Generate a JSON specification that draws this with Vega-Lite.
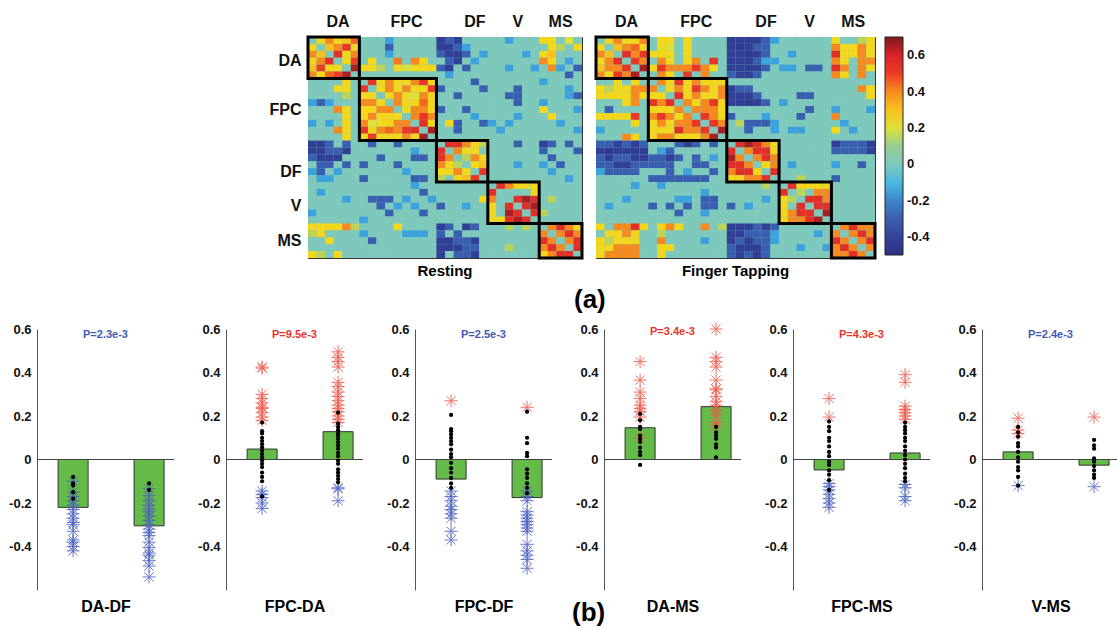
{
"$schema":"https://vega.github.io/schema/vega-lite/v6.json",
"background":"white",
"padding":{"left":5,"top":5,"right":0,"bottom":0},
"spacing":7,
"resolve":{"scale":{"color":"independent"}},
"config":{"font":"Liberation Sans","view":{"stroke":null},"axis":{"grid":false,"labelColor":"#111","titleColor":"#000"},
"axisBottom":{"labels":false,"ticks":false,"domain":false,"titleFontSize":16,"titleFontWeight":"bold","titlePadding":8},
"axisLeft":{"labelFontSize":13,"labelFontWeight":"bold","domainColor":"#555","ticks":false,"labelPadding":6,"minExtent":32,"maxExtent":32}},
"datasets":{
"blocks":[{"s":1,"e":6},{"s":7,"e":15},{"s":16,"e":21},{"s":22,"e":27},{"s":28,"e":32}],
"bars":[{"p":"DA-DF","g":"1","m":-0.22},{"p":"DA-DF","g":"2","m":-0.305},{"p":"FPC-DA","g":"1","m":0.048},{"p":"FPC-DA","g":"2","m":0.128},{"p":"FPC-DF","g":"1","m":-0.09},{"p":"FPC-DF","g":"2","m":-0.175},{"p":"DA-MS","g":"1","m":0.146},{"p":"DA-MS","g":"2","m":0.243},{"p":"FPC-MS","g":"1","m":-0.048},{"p":"FPC-MS","g":"2","m":0.03},{"p":"V-MS","g":"1","m":0.035},{"p":"V-MS","g":"2","m":-0.026}],
"pts":[
{"p":"DA-DF","g":"1","t":"k","v":[-0.08,-0.11,-0.12,-0.15,-0.18]},
{"p":"DA-DF","g":"1","t":"b","v":[-0.1,-0.15,-0.17,-0.19,-0.21,-0.23,-0.25,-0.27,-0.29,-0.3,-0.33,-0.37,-0.38,-0.4,-0.42]},
{"p":"DA-DF","g":"2","t":"k","v":[-0.11,-0.14]},
{"p":"DA-DF","g":"2","t":"b","v":[-0.135,-0.165,-0.19,-0.21,-0.23,-0.24,-0.26,-0.28,-0.3,-0.32,-0.335,-0.35,-0.38,-0.405,-0.43,-0.44,-0.465,-0.49,-0.54]},
{"p":"FPC-DA","g":"1","t":"r","v":[0.425,0.42,0.3,0.28,0.26,0.24,0.235,0.215,0.195,0.18]},
{"p":"FPC-DA","g":"1","t":"k","v":[0.17,0.13,0.12,0.1,0.085,0.07,0.055,0.04,0.025,0.01,-0.005,-0.02,-0.035,-0.06,-0.08,-0.1,-0.17]},
{"p":"FPC-DA","g":"1","t":"b","v":[-0.145,-0.16,-0.175,-0.2,-0.225]},
{"p":"FPC-DA","g":"2","t":"r","v":[0.495,0.47,0.45,0.425,0.355,0.335,0.31,0.29,0.27,0.25,0.235,0.22,0.2,0.185,0.17]},
{"p":"FPC-DA","g":"2","t":"k","v":[0.215,0.165,0.15,0.135,0.12,0.11,0.095,0.08,0.065,0.05,0.03,0.015,-0.005,-0.02,-0.045,-0.06,-0.075,-0.09,-0.105]},
{"p":"FPC-DA","g":"2","t":"b","v":[-0.13,-0.135,-0.19]},
{"p":"FPC-DF","g":"1","t":"r","v":[0.27]},
{"p":"FPC-DF","g":"1","t":"k","v":[0.205,0.14,0.13,0.115,0.1,0.085,0.07,0.045,0.025,0.01,-0.015,-0.04,-0.06,-0.085,-0.11,-0.13]},
{"p":"FPC-DF","g":"1","t":"b","v":[-0.145,-0.17,-0.19,-0.215,-0.23,-0.25,-0.27,-0.33,-0.37]},
{"p":"FPC-DF","g":"2","t":"r","v":[0.24]},
{"p":"FPC-DF","g":"2","t":"k","v":[0.22,0.1,0.075,0.03,0.015,-0.045,-0.065,-0.085,-0.11,-0.13,-0.155]},
{"p":"FPC-DF","g":"2","t":"b","v":[-0.145,-0.17,-0.19,-0.24,-0.255,-0.27,-0.285,-0.3,-0.315,-0.33,-0.39,-0.42,-0.44,-0.46,-0.5]},
{"p":"DA-MS","g":"1","t":"r","v":[0.45,0.365,0.31,0.28,0.25,0.235,0.22,0.195,0.1]},
{"p":"DA-MS","g":"1","t":"k","v":[0.21,0.18,0.15,0.14,0.11,0.095,0.08,0.055,0.035,0.02,-0.025]},
{"p":"DA-MS","g":"2","t":"r","v":[0.6,0.47,0.45,0.425,0.365,0.325,0.32,0.29,0.265,0.25,0.225,0.205,0.17,0.155]},
{"p":"DA-MS","g":"2","t":"k","v":[0.15,0.125,0.11,0.095,0.07,0.055,0.01]},
{"p":"FPC-MS","g":"1","t":"r","v":[0.28,0.195]},
{"p":"FPC-MS","g":"1","t":"k","v":[0.175,0.15,0.13,0.1,0.085,0.06,0.035,0.015,-0.01,-0.025,-0.05,-0.07,-0.095,-0.14]},
{"p":"FPC-MS","g":"1","t":"b","v":[-0.11,-0.125,-0.14,-0.16,-0.18,-0.2,-0.22]},
{"p":"FPC-MS","g":"2","t":"r","v":[0.39,0.355,0.245,0.23,0.215,0.2,0.185]},
{"p":"FPC-MS","g":"2","t":"k","v":[0.17,0.15,0.135,0.12,0.1,0.085,0.06,0.04,0.02,0,-0.02,-0.04,-0.065,-0.085,-0.1]},
{"p":"FPC-MS","g":"2","t":"b","v":[-0.115,-0.13,-0.17,-0.19]},
{"p":"V-MS","g":"1","t":"r","v":[0.19,0.135,0.12]},
{"p":"V-MS","g":"1","t":"k","v":[0.15,0.125,0.105,0.075,0.06,0.035,0.01,-0.01,-0.035,-0.05,-0.08,-0.12]},
{"p":"V-MS","g":"1","t":"b","v":[-0.12]},
{"p":"V-MS","g":"2","t":"r","v":[0.195]},
{"p":"V-MS","g":"2","t":"k","v":[0.09,0.065,0.05,0.005,-0.01,-0.03,-0.05,-0.07,-0.085]},
{"p":"V-MS","g":"2","t":"b","v":[-0.125]}
],
"mat":[
{"m":"R","r":1,"v":[0,0.25,0.4,0.25,0.3,0.45,0,0,0,-0.15,0,0,0,0,0,-0.42,-0.3,-0.42,0,0,0,0,0,-0.15,0,0,0,0.25,0.25,0,0.2,0]},
{"m":"R","r":2,"v":[0.25,0,0.3,0.4,0.52,0.25,0,0,0,-0.3,0,0,0,0,0,-0.42,-0.42,-0.3,-0.15,0,0,0,0,0,0,0,0,0,0.25,0.15,0,0.25]},
{"m":"R","r":3,"v":[0.4,0.3,0,0.55,0.25,0.4,0,0,0,-0.15,0,0,0,0,0,-0.3,-0.42,-0.42,-0.3,0,-0.15,0,0,0,0,-0.15,0,0.25,0.3,0,0,0]},
{"m":"R","r":4,"v":[0.25,0.4,0.55,0,0.25,0.5,0,0.25,0,0,0.42,0,0.4,0.25,0,0,-0.3,-0.42,0,-0.15,0,0,0,0,0,0,0,0.4,0.25,0,-0.15,0]},
{"m":"R","r":5,"v":[0.3,0.5,0.25,0.25,0,0.65,0.25,0.25,0.15,0,0.25,0.2,0.25,0.25,0.25,-0.3,-0.42,0,-0.3,0,0,0,0,-0.15,0,0,-0.15,0,0.4,-0.15,0,-0.3]},
{"m":"R","r":6,"v":[0.4,0.25,0.45,0.5,0.65,0,0,0,0,0,0,0,0,0,0,0,-0.15,0,0,0,0,0,0,0,0,0,0,0,0,0,-0.3,0]},
{"m":"R","r":7,"v":[0,0,0,0,0.25,0,0,0.52,0.25,0.4,0.25,0.25,0.4,0.52,0.25,0,0,0,0,-0.3,0,0,0,0,0,0,0,-0.15,0,0,0,0]},
{"m":"R","r":8,"v":[0,0,0,0.25,0.25,0,0.52,0,0.25,0.4,0.25,0.4,0.25,0.25,0.5,-0.3,0,0,0,0,-0.3,0,0,0,-0.3,0,0,0,0,0,-0.15,0]},
{"m":"R","r":9,"v":[0,0,0,0,0.15,0,0.25,0.25,0,0.25,0.4,0.25,0.2,0.4,0.25,0,0,-0.3,0,0,0,0,0,-0.3,-0.3,0,0,0,0,0,-0.15,-0.3]},
{"m":"R","r":10,"v":[-0.15,-0.3,-0.15,0,0,0,0.4,0.4,0.25,0,0.4,0.25,0.25,0.45,0.25,0,0,0,0,0,0,0,0,0,-0.3,0,0,-0.15,0,0,0,0]},
{"m":"R","r":11,"v":[0,0,0,0.4,0.25,0,0.25,0.25,0.4,0.4,0,0.25,0.4,0.4,0.25,-0.3,0,0,-0.3,0,0,0,0,0,0,0,0,0.25,0,0,0,-0.15]},
{"m":"R","r":12,"v":[0,0,0,0,0.25,0,0.25,0.4,0.25,0.25,0.25,0,0.4,0.52,0.4,0,0,0,0,-0.15,0,0,0,0,-0.15,0,0,0,0.25,0,0,0]},
{"m":"R","r":13,"v":[-0.15,0,-0.15,0,0.25,0,0.4,0.2,0.25,0.25,0.4,0.4,0,0.55,0.25,0,0.25,-0.3,0,0,-0.3,-0.15,0,-0.15,0,0,0,0,0,-0.15,0,0]},
{"m":"R","r":14,"v":[0,0,0,0.4,0.25,0,0.52,0.25,0.4,0.45,0.4,0.52,0.55,0,0.65,0,0,-0.3,0,0,0,0,-0.15,0,0,0,0,0,0,0,0,-0.15]},
{"m":"R","r":15,"v":[0,0,0,0,0.25,0,0.25,0.5,0.25,0.25,0.25,0.4,0.25,0.65,0,0,0,0,0,0,0,0,0,0,0,0,0,0,0,0,0,0]},
{"m":"R","r":16,"v":[-0.42,-0.42,-0.3,0,-0.3,0,0,-0.3,0,0,-0.3,0,0,0,0,0,0.55,0.55,0.4,0.25,0.15,0,0,0,-0.3,0,0,-0.42,-0.3,0,-0.3,0]},
{"m":"R","r":17,"v":[-0.42,-0.42,-0.3,-0.3,-0.42,0,0,0,0,0,0,0,-0.15,0,0,0.55,0,0.4,0.25,0.25,0,0,0,0,0,0,0,-0.3,0,0,0,-0.3]},
{"m":"R","r":18,"v":[-0.3,-0.42,-0.42,-0.42,0,0,0,0,-0.3,0,0,0,-0.3,-0.3,0,0.55,0.4,0,0.15,0.4,0.25,0,0,0,0,0,0,0,-0.3,0,0,0]},
{"m":"R","r":19,"v":[0,-0.3,-0.3,0,-0.3,0,-0.3,0,0,0,-0.3,0,0,0,0,0.4,0.25,0.15,0,0.25,0.3,0,0,0,-0.15,0,0,-0.15,0,-0.3,0,0]},
{"m":"R","r":20,"v":[-0.15,-0.3,0,-0.15,0,0,0,0,0,0,0,-0.15,0,0,0,0.25,0.25,0.4,0.25,0,0.52,0,0,0,0,0,0,0,-0.15,0,0,0]},
{"m":"R","r":21,"v":[0,-0.15,-0.15,0,0,0,-0.3,0,0,0,0,0,-0.3,-0.3,0,0.15,0,0.25,0.3,0.52,0,0,0,0,0,0,0,0,0,0,-0.15,0]},
{"m":"R","r":22,"v":[0,0,0,0,0,0,0,0,0,0,0,0,-0.15,0,0,0,0,0,0,0,0,0,0.55,0.4,0.25,0.25,0.25,0,0,0,0,0]},
{"m":"R","r":23,"v":[0,-0.15,0,0,0,0,0,0,0,0,0,0,0,-0.3,0,0,0,0,0,0,0,0.55,0,0,0,0,0.25,0,0,0,0,0]},
{"m":"R","r":24,"v":[0,0,0,0,-0.15,0,0,-0.3,-0.3,-0.3,0,-0.15,0,0,-0.15,0,0,0,0,0,0.25,0.4,0,0,0.55,0.65,0.55,0,0.15,0,0,0]},
{"m":"R","r":25,"v":[0,0,0,0,0,0,0,0,-0.3,0,-0.15,0,-0.15,0,0,-0.3,0,0,-0.15,0,0,0.25,0,0.55,0,0.55,0.65,0,0,0,0,0]},
{"m":"R","r":26,"v":[-0.15,0,0,0,0,0,0,0,0,-0.3,0,0,0,-0.3,0,0,0,0,0,0,0,0.25,0,0.65,0.55,0,0.55,0.15,0,0,0,0]},
{"m":"R","r":27,"v":[0,0,0,0,0,0,-0.15,0,0,0,0,0,0,0,0,0,0,0,0,0,0,0.25,0.25,0.55,0.65,0.55,0,0,0,0,0,0]},
{"m":"R","r":28,"v":[0.25,0.25,0.25,0.25,0.4,0.15,0,0,0,0,0.25,0,0,0,0,-0.42,-0.3,0,-0.42,-0.3,0,0,0,0.15,0,0.15,0,0,0.4,0.55,0.4,0.25]},
{"m":"R","r":29,"v":[0.15,0.25,0,0,0,0,-0.15,0,0,0,0,-0.15,-0.15,-0.15,0,-0.3,0,-0.3,0,0,0,0,0,0,0,0,0,0.4,0,0.4,0.55,0.4]},
{"m":"R","r":30,"v":[0,0,0.25,0,0,0,0,-0.3,0,0,0,0,0,0,0,-0.42,-0.42,-0.3,-0.3,-0.42,0,0,0,0,0,0,0,0.55,0.4,0,0.4,0.55]},
{"m":"R","r":31,"v":[0,0,0,0,0,0,0,0,0,0,0,0,0,0,0,-0.42,-0.42,-0.42,-0.3,-0.3,0,0,0,0.15,0,0,0,0.4,0.55,0.4,0,0.55]},
{"m":"R","r":32,"v":[0.25,0.15,0,0.25,0,0,0,0,0,0,0,0,0,0,0,-0.42,0,-0.3,-0.3,-0.42,0,0,0,0,0,0,0,0.25,0.4,0.55,0.55,0]},
{"m":"F","r":1,"v":[0,0.25,0.4,0.25,0.25,0.4,0,0.25,0.25,0,0.25,0,0,0,0,-0.42,-0.42,-0.42,-0.42,-0.3,-0.15,0,0,0,0,0,0,0.25,0,0,0.15,0.25]},
{"m":"F","r":2,"v":[0.25,0,0.3,0.4,0.45,0.25,0,0.25,0.2,0,0.25,0,0,0,0,-0.42,-0.45,-0.42,-0.3,-0.3,0,0,0,0,0,0,0,0.4,0.25,0.25,0.4,0.25]},
{"m":"F","r":3,"v":[0.4,0.3,0,0.55,0.4,0.52,0.25,0.25,0.25,0,0.25,0,0,0,0,-0.42,-0.42,-0.45,-0.42,-0.3,0,0,-0.15,0,0,0,0,0.55,0.25,0.25,0.4,0.25]},
{"m":"F","r":4,"v":[0.25,0.4,0.55,0,0.52,0.4,0,0.4,0.25,0,0.25,0.4,0,0.52,0,-0.42,-0.42,-0.42,-0.3,-0.15,-0.15,0,0,0,0,0,0,0.4,0.25,0,0.4,0.4]},
{"m":"F","r":5,"v":[0.3,0.4,0.4,0.52,0,0.65,0.25,0.52,0.4,0.4,0.4,0.52,0.4,0.25,0,-0.42,-0.42,-0.42,-0.42,-0.3,0,-0.15,-0.15,0,-0.3,-0.3,0,0.55,0.4,0,0.4,0.25]},
{"m":"F","r":6,"v":[0.4,0.25,0.52,0.4,0.65,0,0,0.4,0.25,0,0.52,0,0.4,0,0,-0.3,-0.42,-0.42,-0.3,0,0,0,0,0,0,0,0,0.4,0.25,0,0.4,0]},
{"m":"F","r":7,"v":[0,0,0.25,0,0.25,0,0,0.4,0.25,0.52,0.25,0.4,0.25,0.25,0.25,0,0,0,0,0,0,0,0,0,0,0,0,0,0,0,0,0]},
{"m":"F","r":8,"v":[0.25,0.15,0.25,0.25,0.4,0.4,0.4,0,0.25,0.4,0.25,0.52,0.4,0.25,0.4,-0.42,-0.3,-0.3,0,0,0,0,0,0,0,0,0,0,0,0,0.4,0.25]},
{"m":"F","r":9,"v":[0.25,0.25,0.25,0.25,0.4,0.25,0.25,0.25,0,0.55,0.25,0.4,0.25,0.25,0.4,-0.42,-0.42,-0.42,-0.3,0,0,0,0,-0.3,-0.3,0,0,0,0,0,0,0.25]},
{"m":"F","r":10,"v":[0,0,0,0.25,0.4,0,0.52,0.4,0.55,0,0.4,0.25,0.4,0.52,0.25,-0.42,-0.42,-0.45,-0.42,-0.3,0,-0.15,0,0,0,0,0,0,0,0,0,0]},
{"m":"F","r":11,"v":[0,-0.3,0,0,0,0,0.25,0.25,0.25,0.4,0,0.4,0.4,0.4,0.25,0,0,0,0,0,0,0,0,0,-0.3,0,0,-0.15,0,0,0,-0.15]},
{"m":"F","r":12,"v":[0.25,0.25,0.25,0.25,0.52,0,0.4,0.52,0.4,0.25,0.4,0,0.52,0.4,0.25,-0.3,0,0,0,-0.15,0,0,0,-0.3,0,0,0,0.4,0,0,0,0]},
{"m":"F","r":13,"v":[0,0,0,0,0.25,0,0.25,0.4,0.25,0.4,0.4,0.52,0,0.52,0.4,0,0.15,-0.3,-0.3,-0.3,-0.15,0,0,0,0,0,0,0,-0.15,0,0,0]},
{"m":"F","r":14,"v":[-0.15,0,0,0,0,0,0.25,0.25,0.25,0.55,0.4,0.4,0.52,0,0.65,0,0,-0.3,0,0,-0.15,0,-0.15,-0.15,0,0,0,0.25,0,-0.15,0,0]},
{"m":"F","r":15,"v":[0,0,0,0.4,0.25,0,0.25,0.4,0.4,0.25,0.25,0.25,0.4,0.65,0,0,0,0,0,0,0,0,0,0,0,0,0,0,0,0,0,0]},
{"m":"F","r":16,"v":[-0.3,-0.3,-0.42,-0.3,-0.42,-0.3,0,0,0,-0.3,-0.42,-0.3,0,-0.3,0,0,0.55,0.65,0.55,0.4,0.25,0,0,0,0,0,0,-0.42,-0.3,-0.3,-0.3,-0.42]},
{"m":"F","r":17,"v":[-0.42,-0.45,-0.42,-0.42,-0.42,-0.42,0,-0.15,-0.3,0,0,0,0,0,0,0.55,0,0.4,0.55,0.55,0.25,0,0,0,0,0,0,-0.3,-0.3,-0.3,-0.3,-0.42]},
{"m":"F","r":18,"v":[-0.3,-0.42,-0.3,-0.3,-0.42,-0.42,-0.3,-0.3,-0.42,-0.3,0,-0.3,0,-0.15,0,0.65,0.4,0,0.4,0.55,0.4,0,0,0,0,0,0,0,0,0,0,0]},
{"m":"F","r":19,"v":[-0.3,-0.3,-0.42,-0.42,-0.3,-0.3,-0.3,-0.3,-0.3,0,0,-0.3,-0.3,0,0,0.55,0.55,0.4,0,0.25,0.4,0,-0.15,0,0,0,0,-0.15,0,0,-0.3,0]},
{"m":"F","r":20,"v":[-0.15,-0.3,-0.3,-0.3,-0.3,0,0,0,-0.3,0,-0.15,0,0,-0.3,0,0.4,0.55,0.55,0.25,0,0.55,0,0,0,0,0,0,0,0,0,0,0]},
{"m":"F","r":21,"v":[0,0,0,0,0,0,-0.3,-0.3,-0.3,-0.3,-0.3,-0.3,-0.3,0,0,0.25,0.25,0.4,0.4,0.55,0,0,0,0.15,0,0,0,-0.3,0,0,0,0]},
{"m":"F","r":22,"v":[0,0,0,0,-0.15,0,0,-0.15,0,0,0,0,0,0,0,0,0,0,0,0.15,0,0,0.55,0.25,0.25,0.25,0.25,0,0,0,0,0]},
{"m":"F","r":23,"v":[0,0,0,0,0,0,0,0,0,0,0,0,-0.15,0,0,0,0,0,0,0,0,0.55,0,0.15,0,0.4,0.4,0,0,0,0,0]},
{"m":"F","r":24,"v":[0,0,0,-0.15,0,0,0,0,0,-0.15,-0.15,0,-0.3,-0.3,0,0,0,0,0,-0.15,0,0.25,0.15,0,0.55,0.55,0.4,0,0,0,0,0]},
{"m":"F","r":25,"v":[0,-0.15,0,0,0,0,-0.3,0,-0.3,0,-0.3,0,-0.3,-0.3,0,-0.3,0,-0.15,0,0,0,0.25,0,0.55,0,0.55,0.55,0,0,0,0,0]},
{"m":"F","r":26,"v":[0,0,0,0,0,0,0,0,0,-0.3,0,0,-0.15,0,0,0,0,0,0,0,0,0.25,0.4,0.55,0.55,0,0.65,0,0,0,0,0]},
{"m":"F","r":27,"v":[0,0,0,0,0,0,0,0,0,0,0,0,0,0,0,0,0,0,0,0,0,0.25,0.4,0.4,0.55,0.65,0,0,0,0,0,0]},
{"m":"F","r":28,"v":[0.25,0,0.4,0.4,0.55,0.25,0,0.25,0.4,0.25,0,0,0.4,0,0.15,-0.42,-0.42,-0.42,-0.3,-0.42,-0.3,0,0,0,0,0,0,0,0.4,0.55,0.4,0.4]},
{"m":"F","r":29,"v":[0,0.25,0.25,0.4,0.25,0,0,0.15,0,0,0,0,0,0,0,-0.42,-0.42,-0.3,-0.3,-0.3,-0.15,0,0,0,0,-0.15,0,0.4,0,0.4,0.55,0.4]},
{"m":"F","r":30,"v":[0.25,0.15,0.25,0.25,0.25,0,0,0.4,0,0,0,0,-0.15,0,0,-0.42,-0.3,-0.42,-0.3,-0.3,-0.15,0,0,0,0,0,0,0.55,0.4,0,0.4,0.55]},
{"m":"F","r":31,"v":[0.25,0.25,0.4,0.4,0.4,0,0,0.25,0.25,0,0,0,0,0,0,-0.3,-0.42,-0.42,-0.42,-0.3,0,0,0,-0.15,0,0,-0.15,0.4,0.55,0.4,0,0.4]},
{"m":"F","r":32,"v":[0.25,0.4,0.4,0.4,0.4,0,0,0.25,0,0,0,0,0,0,0,-0.3,-0.42,-0.3,-0.42,-0.3,0,0,0,0,0,0,0,0.4,0.4,0.55,0.4,0]}
]},
"vconcat":[
{"hconcat":[
 {"width":220,"height":221,"data":{"values":[{}]},"mark":{"type":"point","opacity":0},"encoding":{}},
 {"width":274,"height":221,"view":{"stroke":"#333","fill":"#7ec8bc"},
  "title":{"text":"Resting","orient":"bottom","fontSize":15,"fontWeight":"bold","offset":4},
  "layer":[
   {"data":{"name":"mat"},"transform":[{"filter":"datum.m=='R'"},{"flatten":["v"]},{"window":[{"op":"row_number","as":"c"}],"groupby":["r"]}],
    "mark":"rect",
    "encoding":{
     "x":{"field":"c","type":"ordinal","title":null,"scale":{"paddingInner":0,"paddingOuter":0},"axis":{"orient":"top","values":[4,12,20,25,30],"labelExpr":"datum.value==4?'DA':datum.value==12?'FPC':datum.value==20?'DF':datum.value==25?'V':'MS'","labelFontSize":16,"labelFontWeight":"bold","labelAngle":0,"domain":false,"ticks":false,"labelPadding":8,"minExtent":31,"maxExtent":31}},
     "y":{"field":"r","type":"ordinal","title":null,"scale":{"paddingInner":0,"paddingOuter":0},"axis":{"orient":"left","values":[4,11,20,25,30],"labelExpr":"datum.value==4?'DA':datum.value==11?'FPC':datum.value==20?'DF':datum.value==25?'V':'MS'","labelFontSize":16,"labelFontWeight":"bold","domain":false,"ticks":false,"labelPadding":7,"minExtent":40,"maxExtent":40}},
     "color":{"field":"v","type":"quantitative","scale":{"domain":[-0.5,-0.4,-0.3,-0.2,-0.12,-0.05,0,0.08,0.15,0.22,0.3,0.4,0.5,0.6,0.7],"range":["#2a3184","#33439a","#3b5fb0","#3d86cc","#3fb2e6","#6cc6d6","#7ec8bc","#93c9a0","#bcd35a","#ece423","#f8c11d","#f6891f","#ec3b26","#d7232a","#7e1a1c"]},
      "legend":{"type":"gradient","title":null,"gradientLength":218,"gradientThickness":18,"values":[-0.4,-0.2,0,0.2,0.4,0.6],"labelExpr":"''+datum.value","labelFontSize":13,"labelFontWeight":"bold","labelColor":"#111","gradientStrokeColor":"#222","gradientStrokeWidth":1,"offset":8,"labelOffset":4}}}},
   {"data":{"name":"blocks"},"mark":{"type":"rect","filled":false,"color":"#000","strokeWidth":3},
    "encoding":{"x":{"field":"s","type":"ordinal","bandPosition":0,"title":null},"x2":{"field":"e","bandPosition":1},"y":{"field":"s","type":"ordinal","bandPosition":0,"title":null},"y2":{"field":"e","bandPosition":1}}}
  ]},
 {"width":279,"height":221,"view":{"stroke":"#333","fill":"#7ec8bc"},
  "title":{"text":"Finger Tapping","orient":"bottom","fontSize":15,"fontWeight":"bold","offset":4},
  "layer":[
   {"data":{"name":"mat"},"transform":[{"filter":"datum.m=='F'"},{"flatten":["v"]},{"window":[{"op":"row_number","as":"c"}],"groupby":["r"]}],
    "mark":"rect",
    "encoding":{
     "x":{"field":"c","type":"ordinal","title":null,"scale":{"paddingInner":0,"paddingOuter":0},"axis":{"orient":"top","values":[4,12,20,25,30],"labelExpr":"datum.value==4?'DA':datum.value==12?'FPC':datum.value==20?'DF':datum.value==25?'V':'MS'","labelFontSize":16,"labelFontWeight":"bold","labelAngle":0,"domain":false,"ticks":false,"labelPadding":8,"minExtent":31,"maxExtent":31}},
     "y":{"field":"r","type":"ordinal","title":null,"scale":{"paddingInner":0,"paddingOuter":0},"axis":null},
     "color":{"field":"v","type":"quantitative"}}},
   {"data":{"name":"blocks"},"mark":{"type":"rect","filled":false,"color":"#000","strokeWidth":3},
    "encoding":{"x":{"field":"s","type":"ordinal","bandPosition":0,"title":null},"x2":{"field":"e","bandPosition":1},"y":{"field":"s","type":"ordinal","bandPosition":0,"axis":null},"y2":{"field":"e","bandPosition":1}}}
  ]}
 ],"spacing":10,
 "title":{"text":"(a)","orient":"bottom","anchor":"start","dx":537,"fontSize":26,"fontWeight":"bold","offset":8}},
{"hconcat":[
 {"width":137,"height":261,"title":{"text":"P=2.3e-3","color":"#3d5ab8","fontSize":11,"fontWeight":"bold","offset":-17},
  "layer":[
   {"data":{"name":"bars"},"transform":[{"filter":"datum.p=='DA-DF'"}],"mark":{"type":"bar","fill":"#65bb47","stroke":"#333","strokeWidth":1},
    "encoding":{"x":{"field":"g","type":"nominal","title":"DA-DF","scale":{"paddingInner":0.605,"paddingOuter":0.204,"align":0.68}},"y":{"field":"m","type":"quantitative","title":null,"scale":{"domain":[-0.6,0.6],"nice":false},"axis":{"values":[-0.4,-0.2,0,0.2,0.4,0.6],"labelExpr":"''+datum.value"}}}},
   {"data":{"values":[{}]},"mark":{"type":"rule","color":"#444"},"encoding":{"y":{"datum":0,"type":"quantitative"}}},
   {"data":{"name":"pts"},"transform":[{"filter":"datum.p=='DA-DF' && datum.t!='k'"},{"flatten":["v"]}],"mark":{"type":"point","shape":"M-1,0L1,0M0,-1L0,1M-0.7,-0.7L0.7,0.7M-0.7,0.7L0.7,-0.7","size":170,"filled":false,"strokeWidth":1,"opacity":0.85},
    "encoding":{"x":{"field":"g","type":"nominal","title":"DA-DF"},"y":{"field":"v","type":"quantitative","title":null,"scale":{"domain":[-0.6,0.6],"nice":false}},"stroke":{"field":"t","type":"nominal","scale":{"domain":["r","b"],"range":["#ef5a4c","#4d63c2"]},"legend":null}}},
   {"data":{"name":"pts"},"transform":[{"filter":"datum.p=='DA-DF' && datum.t=='k'"},{"flatten":["v"]}],"mark":{"type":"circle","color":"#000","size":18,"opacity":1},
    "encoding":{"x":{"field":"g","type":"nominal","title":"DA-DF"},"y":{"field":"v","type":"quantitative","title":null,"scale":{"domain":[-0.6,0.6],"nice":false}}}}
  ]},
 {"width":137,"height":261,"title":{"text":"P=9.5e-3","color":"#e8332b","fontSize":11,"fontWeight":"bold","offset":-17},
  "layer":[
   {"data":{"name":"bars"},"transform":[{"filter":"datum.p=='FPC-DA'"}],"mark":{"type":"bar","fill":"#65bb47","stroke":"#333","strokeWidth":1},
    "encoding":{"x":{"field":"g","type":"nominal","title":"FPC-DA","scale":{"paddingInner":0.605,"paddingOuter":0.204,"align":0.68}},"y":{"field":"m","type":"quantitative","title":null,"scale":{"domain":[-0.6,0.6],"nice":false},"axis":{"values":[-0.4,-0.2,0,0.2,0.4,0.6],"labelExpr":"''+datum.value"}}}},
   {"data":{"values":[{}]},"mark":{"type":"rule","color":"#444"},"encoding":{"y":{"datum":0,"type":"quantitative"}}},
   {"data":{"name":"pts"},"transform":[{"filter":"datum.p=='FPC-DA' && datum.t!='k'"},{"flatten":["v"]}],"mark":{"type":"point","shape":"M-1,0L1,0M0,-1L0,1M-0.7,-0.7L0.7,0.7M-0.7,0.7L0.7,-0.7","size":170,"filled":false,"strokeWidth":1,"opacity":0.85},
    "encoding":{"x":{"field":"g","type":"nominal","title":"FPC-DA"},"y":{"field":"v","type":"quantitative","title":null,"scale":{"domain":[-0.6,0.6],"nice":false}},"stroke":{"field":"t","type":"nominal","scale":{"domain":["r","b"],"range":["#ef5a4c","#4d63c2"]},"legend":null}}},
   {"data":{"name":"pts"},"transform":[{"filter":"datum.p=='FPC-DA' && datum.t=='k'"},{"flatten":["v"]}],"mark":{"type":"circle","color":"#000","size":18,"opacity":1},
    "encoding":{"x":{"field":"g","type":"nominal","title":"FPC-DA"},"y":{"field":"v","type":"quantitative","title":null,"scale":{"domain":[-0.6,0.6],"nice":false}}}}
  ]},
 {"width":137,"height":261,"title":{"text":"P=2.5e-3","color":"#3d5ab8","fontSize":11,"fontWeight":"bold","offset":-17},
  "layer":[
   {"data":{"name":"bars"},"transform":[{"filter":"datum.p=='FPC-DF'"}],"mark":{"type":"bar","fill":"#65bb47","stroke":"#333","strokeWidth":1},
    "encoding":{"x":{"field":"g","type":"nominal","title":"FPC-DF","scale":{"paddingInner":0.605,"paddingOuter":0.204,"align":0.68}},"y":{"field":"m","type":"quantitative","title":null,"scale":{"domain":[-0.6,0.6],"nice":false},"axis":{"values":[-0.4,-0.2,0,0.2,0.4,0.6],"labelExpr":"''+datum.value"}}}},
   {"data":{"values":[{}]},"mark":{"type":"rule","color":"#444"},"encoding":{"y":{"datum":0,"type":"quantitative"}}},
   {"data":{"name":"pts"},"transform":[{"filter":"datum.p=='FPC-DF' && datum.t!='k'"},{"flatten":["v"]}],"mark":{"type":"point","shape":"M-1,0L1,0M0,-1L0,1M-0.7,-0.7L0.7,0.7M-0.7,0.7L0.7,-0.7","size":170,"filled":false,"strokeWidth":1,"opacity":0.85},
    "encoding":{"x":{"field":"g","type":"nominal","title":"FPC-DF"},"y":{"field":"v","type":"quantitative","title":null,"scale":{"domain":[-0.6,0.6],"nice":false}},"stroke":{"field":"t","type":"nominal","scale":{"domain":["r","b"],"range":["#ef5a4c","#4d63c2"]},"legend":null}}},
   {"data":{"name":"pts"},"transform":[{"filter":"datum.p=='FPC-DF' && datum.t=='k'"},{"flatten":["v"]}],"mark":{"type":"circle","color":"#000","size":18,"opacity":1},
    "encoding":{"x":{"field":"g","type":"nominal","title":"FPC-DF"},"y":{"field":"v","type":"quantitative","title":null,"scale":{"domain":[-0.6,0.6],"nice":false}}}}
  ]},
 {"width":137,"height":261,"title":{"text":"P=3.4e-3","color":"#e8332b","fontSize":11,"fontWeight":"bold","offset":-17},
  "layer":[
   {"data":{"name":"bars"},"transform":[{"filter":"datum.p=='DA-MS'"}],"mark":{"type":"bar","fill":"#65bb47","stroke":"#333","strokeWidth":1},
    "encoding":{"x":{"field":"g","type":"nominal","title":"DA-MS","scale":{"paddingInner":0.605,"paddingOuter":0.204,"align":0.68}},"y":{"field":"m","type":"quantitative","title":null,"scale":{"domain":[-0.6,0.6],"nice":false},"axis":{"values":[-0.4,-0.2,0,0.2,0.4,0.6],"labelExpr":"''+datum.value"}}}},
   {"data":{"values":[{}]},"mark":{"type":"rule","color":"#444"},"encoding":{"y":{"datum":0,"type":"quantitative"}}},
   {"data":{"name":"pts"},"transform":[{"filter":"datum.p=='DA-MS' && datum.t!='k'"},{"flatten":["v"]}],"mark":{"type":"point","shape":"M-1,0L1,0M0,-1L0,1M-0.7,-0.7L0.7,0.7M-0.7,0.7L0.7,-0.7","size":170,"filled":false,"strokeWidth":1,"opacity":0.85},
    "encoding":{"x":{"field":"g","type":"nominal","title":"DA-MS"},"y":{"field":"v","type":"quantitative","title":null,"scale":{"domain":[-0.6,0.6],"nice":false}},"stroke":{"field":"t","type":"nominal","scale":{"domain":["r","b"],"range":["#ef5a4c","#4d63c2"]},"legend":null}}},
   {"data":{"name":"pts"},"transform":[{"filter":"datum.p=='DA-MS' && datum.t=='k'"},{"flatten":["v"]}],"mark":{"type":"circle","color":"#000","size":18,"opacity":1},
    "encoding":{"x":{"field":"g","type":"nominal","title":"DA-MS"},"y":{"field":"v","type":"quantitative","title":null,"scale":{"domain":[-0.6,0.6],"nice":false}}}}
  ]},
 {"width":137,"height":261,"title":{"text":"P=4.3e-3","color":"#e8332b","fontSize":11,"fontWeight":"bold","offset":-17},
  "layer":[
   {"data":{"name":"bars"},"transform":[{"filter":"datum.p=='FPC-MS'"}],"mark":{"type":"bar","fill":"#65bb47","stroke":"#333","strokeWidth":1},
    "encoding":{"x":{"field":"g","type":"nominal","title":"FPC-MS","scale":{"paddingInner":0.605,"paddingOuter":0.204,"align":0.68}},"y":{"field":"m","type":"quantitative","title":null,"scale":{"domain":[-0.6,0.6],"nice":false},"axis":{"values":[-0.4,-0.2,0,0.2,0.4,0.6],"labelExpr":"''+datum.value"}}}},
   {"data":{"values":[{}]},"mark":{"type":"rule","color":"#444"},"encoding":{"y":{"datum":0,"type":"quantitative"}}},
   {"data":{"name":"pts"},"transform":[{"filter":"datum.p=='FPC-MS' && datum.t!='k'"},{"flatten":["v"]}],"mark":{"type":"point","shape":"M-1,0L1,0M0,-1L0,1M-0.7,-0.7L0.7,0.7M-0.7,0.7L0.7,-0.7","size":170,"filled":false,"strokeWidth":1,"opacity":0.85},
    "encoding":{"x":{"field":"g","type":"nominal","title":"FPC-MS"},"y":{"field":"v","type":"quantitative","title":null,"scale":{"domain":[-0.6,0.6],"nice":false}},"stroke":{"field":"t","type":"nominal","scale":{"domain":["r","b"],"range":["#ef5a4c","#4d63c2"]},"legend":null}}},
   {"data":{"name":"pts"},"transform":[{"filter":"datum.p=='FPC-MS' && datum.t=='k'"},{"flatten":["v"]}],"mark":{"type":"circle","color":"#000","size":18,"opacity":1},
    "encoding":{"x":{"field":"g","type":"nominal","title":"FPC-MS"},"y":{"field":"v","type":"quantitative","title":null,"scale":{"domain":[-0.6,0.6],"nice":false}}}}
  ]},
 {"width":137,"height":261,"title":{"text":"P=2.4e-3","color":"#3d5ab8","fontSize":11,"fontWeight":"bold","offset":-17},
  "layer":[
   {"data":{"name":"bars"},"transform":[{"filter":"datum.p=='V-MS'"}],"mark":{"type":"bar","fill":"#65bb47","stroke":"#333","strokeWidth":1},
    "encoding":{"x":{"field":"g","type":"nominal","title":"V-MS","scale":{"paddingInner":0.605,"paddingOuter":0.204,"align":0.68}},"y":{"field":"m","type":"quantitative","title":null,"scale":{"domain":[-0.6,0.6],"nice":false},"axis":{"values":[-0.4,-0.2,0,0.2,0.4,0.6],"labelExpr":"''+datum.value"}}}},
   {"data":{"values":[{}]},"mark":{"type":"rule","color":"#444"},"encoding":{"y":{"datum":0,"type":"quantitative"}}},
   {"data":{"name":"pts"},"transform":[{"filter":"datum.p=='V-MS' && datum.t!='k'"},{"flatten":["v"]}],"mark":{"type":"point","shape":"M-1,0L1,0M0,-1L0,1M-0.7,-0.7L0.7,0.7M-0.7,0.7L0.7,-0.7","size":170,"filled":false,"strokeWidth":1,"opacity":0.85},
    "encoding":{"x":{"field":"g","type":"nominal","title":"V-MS"},"y":{"field":"v","type":"quantitative","title":null,"scale":{"domain":[-0.6,0.6],"nice":false}},"stroke":{"field":"t","type":"nominal","scale":{"domain":["r","b"],"range":["#ef5a4c","#4d63c2"]},"legend":null}}},
   {"data":{"name":"pts"},"transform":[{"filter":"datum.p=='V-MS' && datum.t=='k'"},{"flatten":["v"]}],"mark":{"type":"circle","color":"#000","size":18,"opacity":1},
    "encoding":{"x":{"field":"g","type":"nominal","title":"V-MS"},"y":{"field":"v","type":"quantitative","title":null,"scale":{"domain":[-0.6,0.6],"nice":false}}}}
  ]}
 ],"spacing":19,
 "title":{"text":"(b)","orient":"bottom","anchor":"start","dx":567,"fontSize":26,"fontWeight":"bold","offset":-14}}
]
}
